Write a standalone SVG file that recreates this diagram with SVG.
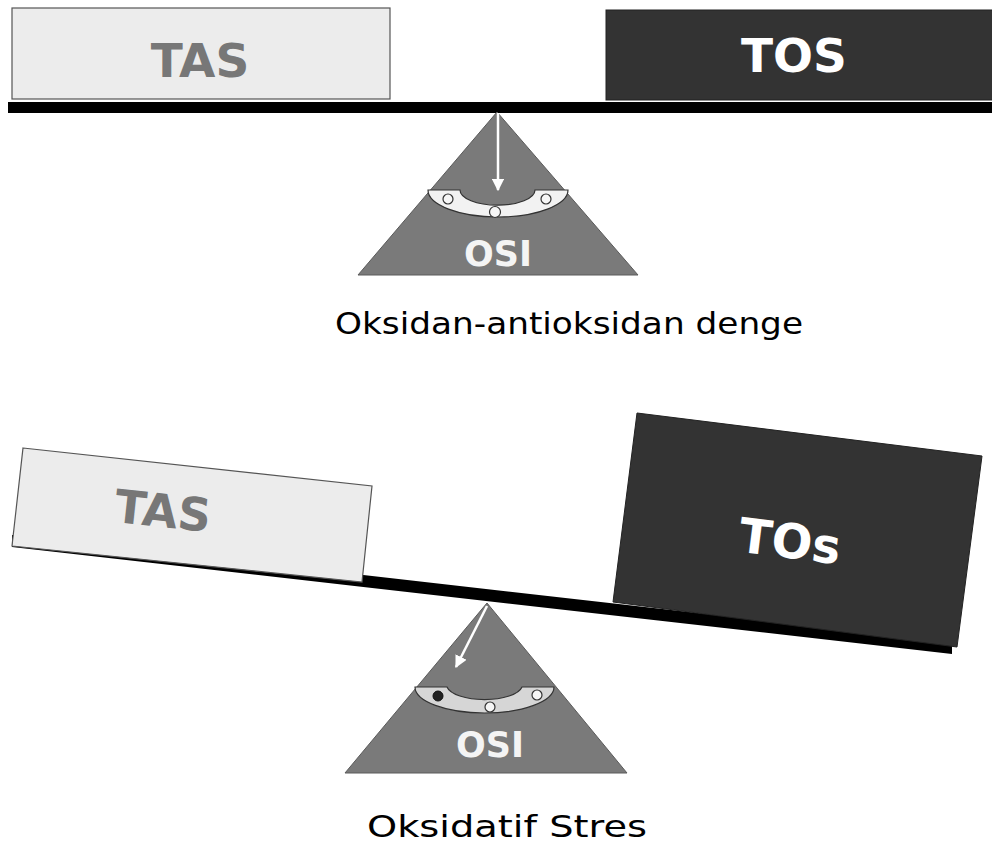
<svg xmlns="http://www.w3.org/2000/svg" width="992" height="855" viewBox="0 0 992 855">
  <defs>
    <style>
      .light { fill: #ececec; stroke: #555; stroke-width: 1.2; }
      .dark { fill: #333333; stroke: #222; stroke-width: 1; }
      .beam { fill: #000; }
      .tri { fill: #7a7a7a; stroke: #5a5a5a; stroke-width: 1; }
      .lbl { font-family: "DejaVu Sans", "Liberation Sans", sans-serif; font-weight: bold; text-anchor: middle; }
      .osi { font-family: "DejaVu Sans", "Liberation Sans", sans-serif; font-size: 35px; font-weight: bold; fill: #f4f4f4; text-anchor: middle; }
      .cap { font-family: "DejaVu Sans", "Liberation Sans", sans-serif; font-size: 30px; fill: #000; }
      .dot { fill: #f6f6f6; stroke: #333; stroke-width: 1.2; }
      .arrow { stroke: #fff; stroke-width: 2.5; fill: none; marker-end: url(#ah); }
    </style>
    <marker id="ah" viewBox="0 0 10 10" refX="9" refY="5" markerWidth="5" markerHeight="5" markerUnits="strokeWidth" orient="auto">
      <path d="M0,0 L10,5 L0,10 Z" fill="#fff"/>
    </marker>
  </defs>
  <rect width="992" height="855" fill="#fff"/>

  <!-- Top: balanced -->
  <g id="beam-top"><rect class="beam" x="8" y="102" width="984" height="11"/></g>
  <g id="tas-top">
    <rect class="light" x="12" y="8" width="378" height="91"/>
    <text class="lbl" x="200" y="77" font-size="47" fill="#777">TAS</text>
  </g>
  <g id="tos-top">
    <rect class="dark" x="606" y="10" width="390" height="90"/>
    <text class="lbl" x="794" y="72" font-size="47" fill="#fff">TOS</text>
  </g>
  <g id="osi-top">
    <polygon class="tri" points="497,112 358,275 638,275"/>
    <path d="M428,190 L460,190 A37,15 0 0 0 535,190 L568,190 A70,27 0 0 1 428,190 Z" fill="#f2f2f2" stroke="#333" stroke-width="1.2"/>
    <circle class="dot" cx="448" cy="199" r="5"/>
    <circle class="dot" cx="495" cy="212" r="5.5"/>
    <circle class="dot" cx="546" cy="199" r="5"/>
    <text class="osi" x="498" y="266">OSI</text>
  </g>
  <g id="caption-top">
    <text class="cap" x="335" y="334" textLength="468" lengthAdjust="spacingAndGlyphs">Oksidan-antioksidan denge</text>
  </g>

  <!-- Bottom: oxidative stress -->
  <g id="beam-bottom"><polygon class="beam" points="12,535 952,642 952,654 12,547"/></g>
  <g id="tas-bottom">
    <polygon class="light" points="23,448 372,486 362,582 12,546"/>
    <text class="lbl" x="163" y="527" font-size="46" fill="#777" transform="rotate(6.2 163 510)">TAS</text>
  </g>
  <g id="tos-bottom">
    <polygon class="dark" points="637,413 982,456 957,647 613,602"/>
    <text class="lbl" x="790" y="558" font-size="48" fill="#fff" transform="rotate(7.1 790 541)">TOs</text>
  </g>
  <g id="osi-bottom">
    <polygon class="tri" points="487,603 345,773 627,773"/>
    <path d="M415,687 L447,687 A38,15 0 0 0 522,687 L554,687 A69.5,26 0 0 1 415,687 Z" fill="#d6d6d6" stroke="#333" stroke-width="1.2"/>
    <circle cx="438" cy="696" r="5" fill="#222" stroke="#111" stroke-width="1"/>
    <circle class="dot" cx="490" cy="707" r="5"/>
    <circle class="dot" cx="537" cy="695" r="5"/>
    <text class="osi" x="490" y="757">OSI</text>
  </g>
  <g id="caption-bottom">
    <text class="cap" x="367" y="837" textLength="280" lengthAdjust="spacingAndGlyphs">Oksidatif Stres</text>
  </g>

  <g id="connectors">
    <line class="arrow" x1="498" y1="113" x2="498" y2="190"/>
    <line class="arrow" x1="487" y1="606" x2="456" y2="667"/>
  </g>
</svg>
